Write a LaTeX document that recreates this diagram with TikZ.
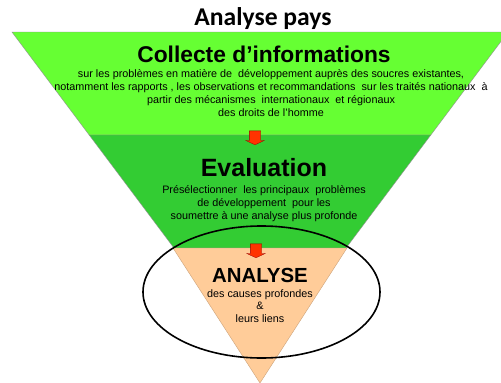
\documentclass[tikz,border=0pt]{standalone}
\usepackage{fontspec}
\setmainfont{Liberation Sans}
\newfontfamily\titlefont{Carlito}
\usetikzlibrary{shapes.arrows}
\definecolor{lgreen}{HTML}{66FF33}
\definecolor{dgreen}{HTML}{33CC33}
\definecolor{peach}{HTML}{FFCC99}
\definecolor{arrowred}{HTML}{FF3300}
\tikzset{
  band/.style={draw=black!45, line width=0.4pt},
  head/.style={font=\bfseries\fontsize{22.8}{24}\selectfont, inner sep=0pt},
  body/.style={font=\fontsize{10.8}{13}\selectfont, align=center, inner sep=0pt},
  downarrow/.style={single arrow, rotate=-90, fill=arrowred, draw=red!60!black, line width=0.3pt,
     inner sep=5.5pt, single arrow head extend=3.5pt, single arrow tip angle=130, minimum height=13pt, single arrow head indent=0pt}
}
\begin{document}
\begin{tikzpicture}[x=1pt,y=-1pt]
\useasboundingbox (0,0) rectangle (501,383);
\fill[white] (0,0) rectangle (501,383);
% bands
\path[fill=lgreen, band] (12,32) -- (508,32) -- (430.75,135) -- (89.25,135) -- cycle;
\path[fill=dgreen, band] (89.25,135) -- (430.75,135) -- (346,248) -- (174,248) -- cycle;
\path[fill=peach, draw=peach!80!black, line width=0.4pt] (173,248) -- (347,248) -- (260,383) -- cycle;
% title
\node[font=\titlefont\bfseries\fontsize{25.6}{28}\selectfont, inner sep=0pt] (title) at (263,19) {Analyse pays};
% band 1
\node[head] (collecte) at (264,54) {Collecte d’informations};
\node[body, anchor=north] (collectetxt) at (271,69) {sur les problèmes en matière de\ \ développement auprès des soucres existantes,\\
notamment\ les rapports , les observations et recommandations\ \ sur les traités nationaux\ \ à\\
partir des mécanismes\ \ internationaux\ \ et régionaux\\
des droits de l’homme};
% band 2
\node[head, font=\bfseries\fontsize{25}{27}\selectfont] (evaluation) at (264,168) {Evaluation};
\node[body, anchor=north] (evaltxt) at (264,185) {Présélectionner\ \ les principaux\ \ problèmes\\
de développement\ \ pour les\\
soumettre à une analyse plus profonde};
% band 3
\node[font=\bfseries\fontsize{20.4}{22}\selectfont, inner sep=0pt] (analyse) at (260,275) {ANALYSE};
\node[body, anchor=north, font=\fontsize{10.8}{12.5}\selectfont] (analysetxt) at (260,289) {des causes profondes\\ \&\\ leurs liens};
% arrows
\node[downarrow] (a1) at (255,136.5) {};
\node[downarrow] (a2) at (256,249.5) {};
% ellipse
\draw[line width=1.6pt] (261.5,292) ellipse [x radius=118.5, y radius=66];
\end{tikzpicture}
\end{document}
